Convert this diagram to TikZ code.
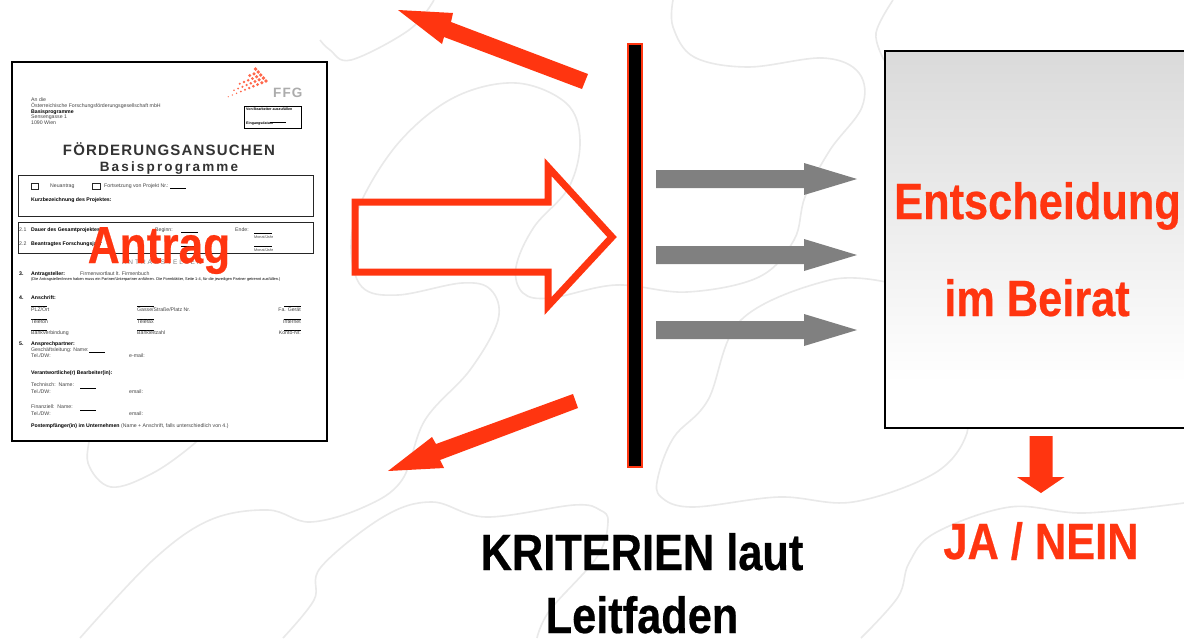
\documentclass[tikz,border=0pt]{standalone}
\usepackage{fontspec}
\setmainfont[FakeStretch=0.85,BoldFeatures={FakeBold=0.45}]{Liberation Sans}
\newfontfamily\formfont{Liberation Sans}
\newfontfamily\formtitle[LetterSpace=8]{Liberation Sans Bold}
\newfontfamily\formsub[LetterSpace=16]{Liberation Sans Bold}
\newfontfamily\formspaced[LetterSpace=30]{Liberation Sans}
\newfontfamily\ffgfont[LetterSpace=8]{Liberation Sans Bold}
\definecolor{ared}{HTML}{FF3510}
\definecolor{agray}{HTML}{808080}
\definecolor{squig}{HTML}{E9E9E9}
\definecolor{ftxt}{HTML}{444444}
\definecolor{boxtop}{HTML}{DADADA}
\pgfdeclareverticalshading{boxshade}{100bp}{color(0bp)=(white); color(31bp)=(white); color(75bp)=(boxtop); color(100bp)=(boxtop)}
\newcounter{ftn}
\newcommand{\ft}[3]{\stepcounter{ftn}\node[formtxt] (ft\theftn) at (#1,#2+1.7) {#3};}
\newcommand{\fb}[3]{\stepcounter{ftn}\node[formtxt,font=\formfont\fontsize{5.2}{6}\selectfont\bfseries,text=black] (ft\theftn) at (#1,#2+1.7) {#3};}
\newcommand{\fr}[3]{\stepcounter{ftn}\node[formtxt,anchor=base east] (ft\theftn) at (#1,#2+1.7) {#3};}
\tikzset{
  squiggle/.style={draw=squig,line width=1.6pt},
  redarrow/.style={fill=ared,draw=none},
  grayarrow/.style={fill=agray,draw=none},
  formtxt/.style={anchor=base west,inner sep=0pt,text=ftxt,font=\formfont\fontsize{5.2}{6}\selectfont},
  formline/.style={draw=black,line width=.7pt},
  formbox/.style={draw=black!85,line width=1pt},
  bigred/.style={text=ared,inner sep=0pt,anchor=base,font=\fontsize{51}{56}\selectfont\bfseries},
  bigblack/.style={text=black,inner sep=0pt,anchor=base,font=\fontsize{51}{56}\selectfont\bfseries}
}
\begin{document}
\begin{tikzpicture}[x=1pt,y=-1pt]
\useasboundingbox (0,0) rectangle (1184,638);
\fill[white] (0,0) rectangle (1184,638);
\begin{scope}
\clip (0,0) rectangle (1184,638);
% background squiggles
\draw[squiggle] plot[smooth,tension=.6] coordinates {(673,0)(673,27)(694,57)(748,67)(823,58)(859,73)(862,107)(830,150)(805,197)(794,240)(759,277)(687,292)(616,285)(551,298)(523,293)(516,267)(534,227)(569,187)(580,140)(566,103)(516,83)(455,97)(401,140)(362,200)(351,247)(362,287)(398,295)(462,283)(491,290)(498,320)(470,370)(425,420)(402,480)(364,507)(310,522)(268,510)(210,520)(153,560)(80,638)};
\draw[squiggle] plot[smooth,tension=.6] coordinates {(283,638)(314,600)(321,567)(383,517)(432,502)(486,517)(574,505)(600,510)(608,522)(597,557)(550,610)(537,638)};
\draw[squiggle] plot[smooth,tension=.6] coordinates {(890,283)(830,280)(741,320)(708,400)(674,437)(658,477)(661,497)(693,507)(779,497)(853,502)(935,473)(967,433)(960,400)};
\draw[squiggle] plot[smooth,tension=.6] coordinates {(861,638)(898,597)(909,563)(935,533)(1010,507)(1084,513)(1184,503)};
\draw[squiggle] plot[smooth,tension=.6] coordinates {(92,430)(88,463)(111,487)(153,473)(195,443)(215,420)};
\draw[squiggle] plot[smooth,tension=.6] coordinates {(434,0)(409,30)(351,60)(330,50)(320,40)};
\draw[squiggle] plot[smooth,tension=.6] coordinates {(893,0)(876,33)(884,60)};
% form
\node[draw=black,line width=2.2pt,fill=white,minimum width=314.5pt,minimum height=379pt,inner sep=0pt,anchor=north west] (form) at (11,61) {};
% logo
\foreach \a in {0,...,9}{
  \pgfmathsetmacro{\bmax}{max(0,int(4-\a/2.5))}
  \foreach \b in {0,...,\bmax}{
    \fill[ared!75] (266-4.2*\a-2.6*\b,81+1.75*\a-3.0*\b) circle ({max(0.6,1.9-0.15*\a)});
  }
}
\node[text=gray!65,inner sep=0pt,anchor=base west,font=\ffgfont\fontsize{13.5}{15}\selectfont] (ffg) at (273,97) {FFG};
\ft{31}{100}{An die}
\ft{31}{106}{Österreichische Forschungsförderungsgesellschaft mbH}
\fb{31}{111.5}{Basisprogramme}
\ft{31}{117}{Sensengasse 1}
\ft{31}{123}{1090 Wien}
\node[draw=black,line width=1pt,minimum width=57pt,minimum height=22pt,inner sep=0pt,anchor=north west] (stamp) at (244,106) {};
\node[formtxt,text=black,font=\formfont\fontsize{3.6}{4}\selectfont\bfseries] (st1) at (246,110) {Von Bearbeiter auszufüllen};
\node[formtxt,text=black,font=\formfont\fontsize{3.6}{4}\selectfont\bfseries] (st2) at (246,124.5) {Eingangsdatum};
\draw[formline] (270,122) -- (286,122);
\node[text=black!80,inner sep=0pt,anchor=base,font=\formtitle\fontsize{15}{16}\selectfont] (ftitle) at (169,155) {FÖRDERUNGSANSUCHEN};
\node[text=black!80,inner sep=0pt,anchor=base,font=\formsub\fontsize{13.5}{15}\selectfont] (fsub) at (169,171) {Basisprogramme};
\draw[formbox] (18,175) rectangle (313,216);
\draw[formbox] (18,222) rectangle (313,253);
\draw[formbox] (31,183) rectangle (38,189);
\draw[formbox] (92,183) rectangle (100,189);
\ft{50}{186}{Neuantrag}
\ft{104}{186}{Fortsetzung von Projekt Nr.:}
\draw[formline] (170,188) -- (186,188);
\fb{31}{200}{Kurzbezeichnung des Projektes:}
\ft{19}{230}{2.1}
\fb{31}{230}{Dauer des Gesamtprojektes:}
\ft{155}{230}{Beginn:}
\draw[formline] (181,232) -- (198,232);
\ft{235}{230}{Ende:}
\draw[formline] (254,233) -- (272,233);
\ft{19}{244}{2.2}
\fb{31}{244}{Beantragtes Forschungsjahr}
\draw[formline] (181,246) -- (198,246);
\draw[formline] (254,246) -- (272,246);
\node[formtxt,font=\formfont\fontsize{3.8}{4}\selectfont] (mj1) at (254,238) {Monat/Jahr};
\node[formtxt,font=\formfont\fontsize{3.8}{4}\selectfont] (mj2) at (254,251) {Monat/Jahr};
\node[text=gray,inner sep=0pt,anchor=base west,font=\formspaced\fontsize{6.5}{8}\selectfont] (fant) at (122,264.5) {ANTRAGSTELLER};
\fb{19}{274}{3.}
\fb{31}{274}{Antragsteller:}
\ft{80}{274}{Firmenwortlaut lt. Firmenbuch}
\node[formtxt,text=black,font=\formfont\fontsize{3.9}{5}\selectfont] (fnote) at (31,280.5) {(Die Antragsteller/innen haben muss ein Partner/Unterpartner anführen. Die Formblätter, Seite 1-4, für die jeweiligen Partner getrennt ausfüllen.)};
\fb{19}{298}{4.}
\fb{31}{298}{Anschrift:}
\foreach \yy in {306,319,330}{
  \draw[formline] (31,\yy) -- (47,\yy);
  \draw[formline] (137,\yy) -- (154,\yy);
  \draw[formline] (284,\yy) -- (301,\yy);
}
\ft{31}{310}{PLZ/Ort}
\ft{137}{310}{Gasse/Straße/Platz Nr.}
\fr{301}{310}{Fa. Gerät}
\ft{31}{322}{Telefon}
\ft{137}{322}{Telefax}
\fr{301}{322}{Internet}
\ft{31}{333}{Bankverbindung}
\ft{137}{333}{Bankleitzahl}
\fr{301}{333}{Konto-Nr.}
\fb{19}{344}{5.}
\fb{31}{344}{Ansprechpartner:}
\ft{31}{350}{Geschäftsleitung: Name:}
\draw[formline] (89,352) -- (105,352);
\ft{31}{356}{Tel./DW:}
\ft{129}{356}{e-mail:}
\fb{31}{373}{Verantwortliche(r) Bearbeiter(in):}
\ft{31}{385}{Technisch:\ \ Name:}
\draw[formline] (80,388) -- (96,388);
\ft{31}{392}{Tel./DW:}
\ft{129}{392}{email:}
\ft{31}{407}{Finanziell:\ \ Name:}
\draw[formline] (80,410) -- (96,410);
\ft{31}{414}{Tel./DW:}
\ft{129}{414}{email:}
\fb{31}{426}{Postempfänger(in) im Unternehmen}
\ft{121}{426}{(Name + Anschrift, falls unterschiedlich von 4.)}
\node[bigred,font=\fontsize{52}{56}\selectfont\bfseries] (antrag) at (159,263) {Antrag};
% hollow arrow
\draw[draw=ared,line width=7pt,miter limit=10] (355,202) -- (548,202) -- (548,167) -- (612,237) -- (548,306) -- (548,272) -- (355,272) -- cycle;
% top and bottom red arrows
\fill[redarrow] (588,74) -- (451,22) -- (453,13) -- (398,10) -- (442,44) -- (444,37) -- (582,89) -- cycle;
\fill[redarrow] (573,394) -- (436,444) -- (432,437) -- (388,471) -- (444,468) -- (440,460) -- (578,408) -- cycle;
% bar
\node[fill=black,draw=ared,line width=2pt,minimum width=14pt,minimum height=423pt,inner sep=0pt,anchor=north west] (bar) at (627,43) {};
% gray arrows
\foreach \yy in {179,255,330}{
  \fill[grayarrow] (656,\yy-9) -- (804,\yy-9) -- (804,\yy-16) -- (857,\yy) -- (804,\yy+16) -- (804,\yy+9) -- (656,\yy+9) -- cycle;
}
% decision box
\node[draw=black,line width=2.2pt,shading=boxshade,minimum width=320pt,minimum height=377pt,inner sep=0pt,anchor=north west] (box) at (884,50) {};
\node[bigred] (ent) at (1037.5,219) {Entscheidung};
\node[bigred] (beirat) at (1037,316) {im Beirat};
% down arrow
\fill[redarrow] (1029.5,436) -- (1052.5,436) -- (1052.5,477) -- (1064.5,477) -- (1041,493) -- (1017,477) -- (1029.5,477) -- cycle;
\node[bigred] (jn) at (1041,559) {JA / NEIN};
\node[bigblack] (krit) at (642,570) {KRITERIEN laut};
\node[bigblack] (leit) at (642,633) {Leitfaden};
\end{scope}
\end{tikzpicture}
\end{document}
